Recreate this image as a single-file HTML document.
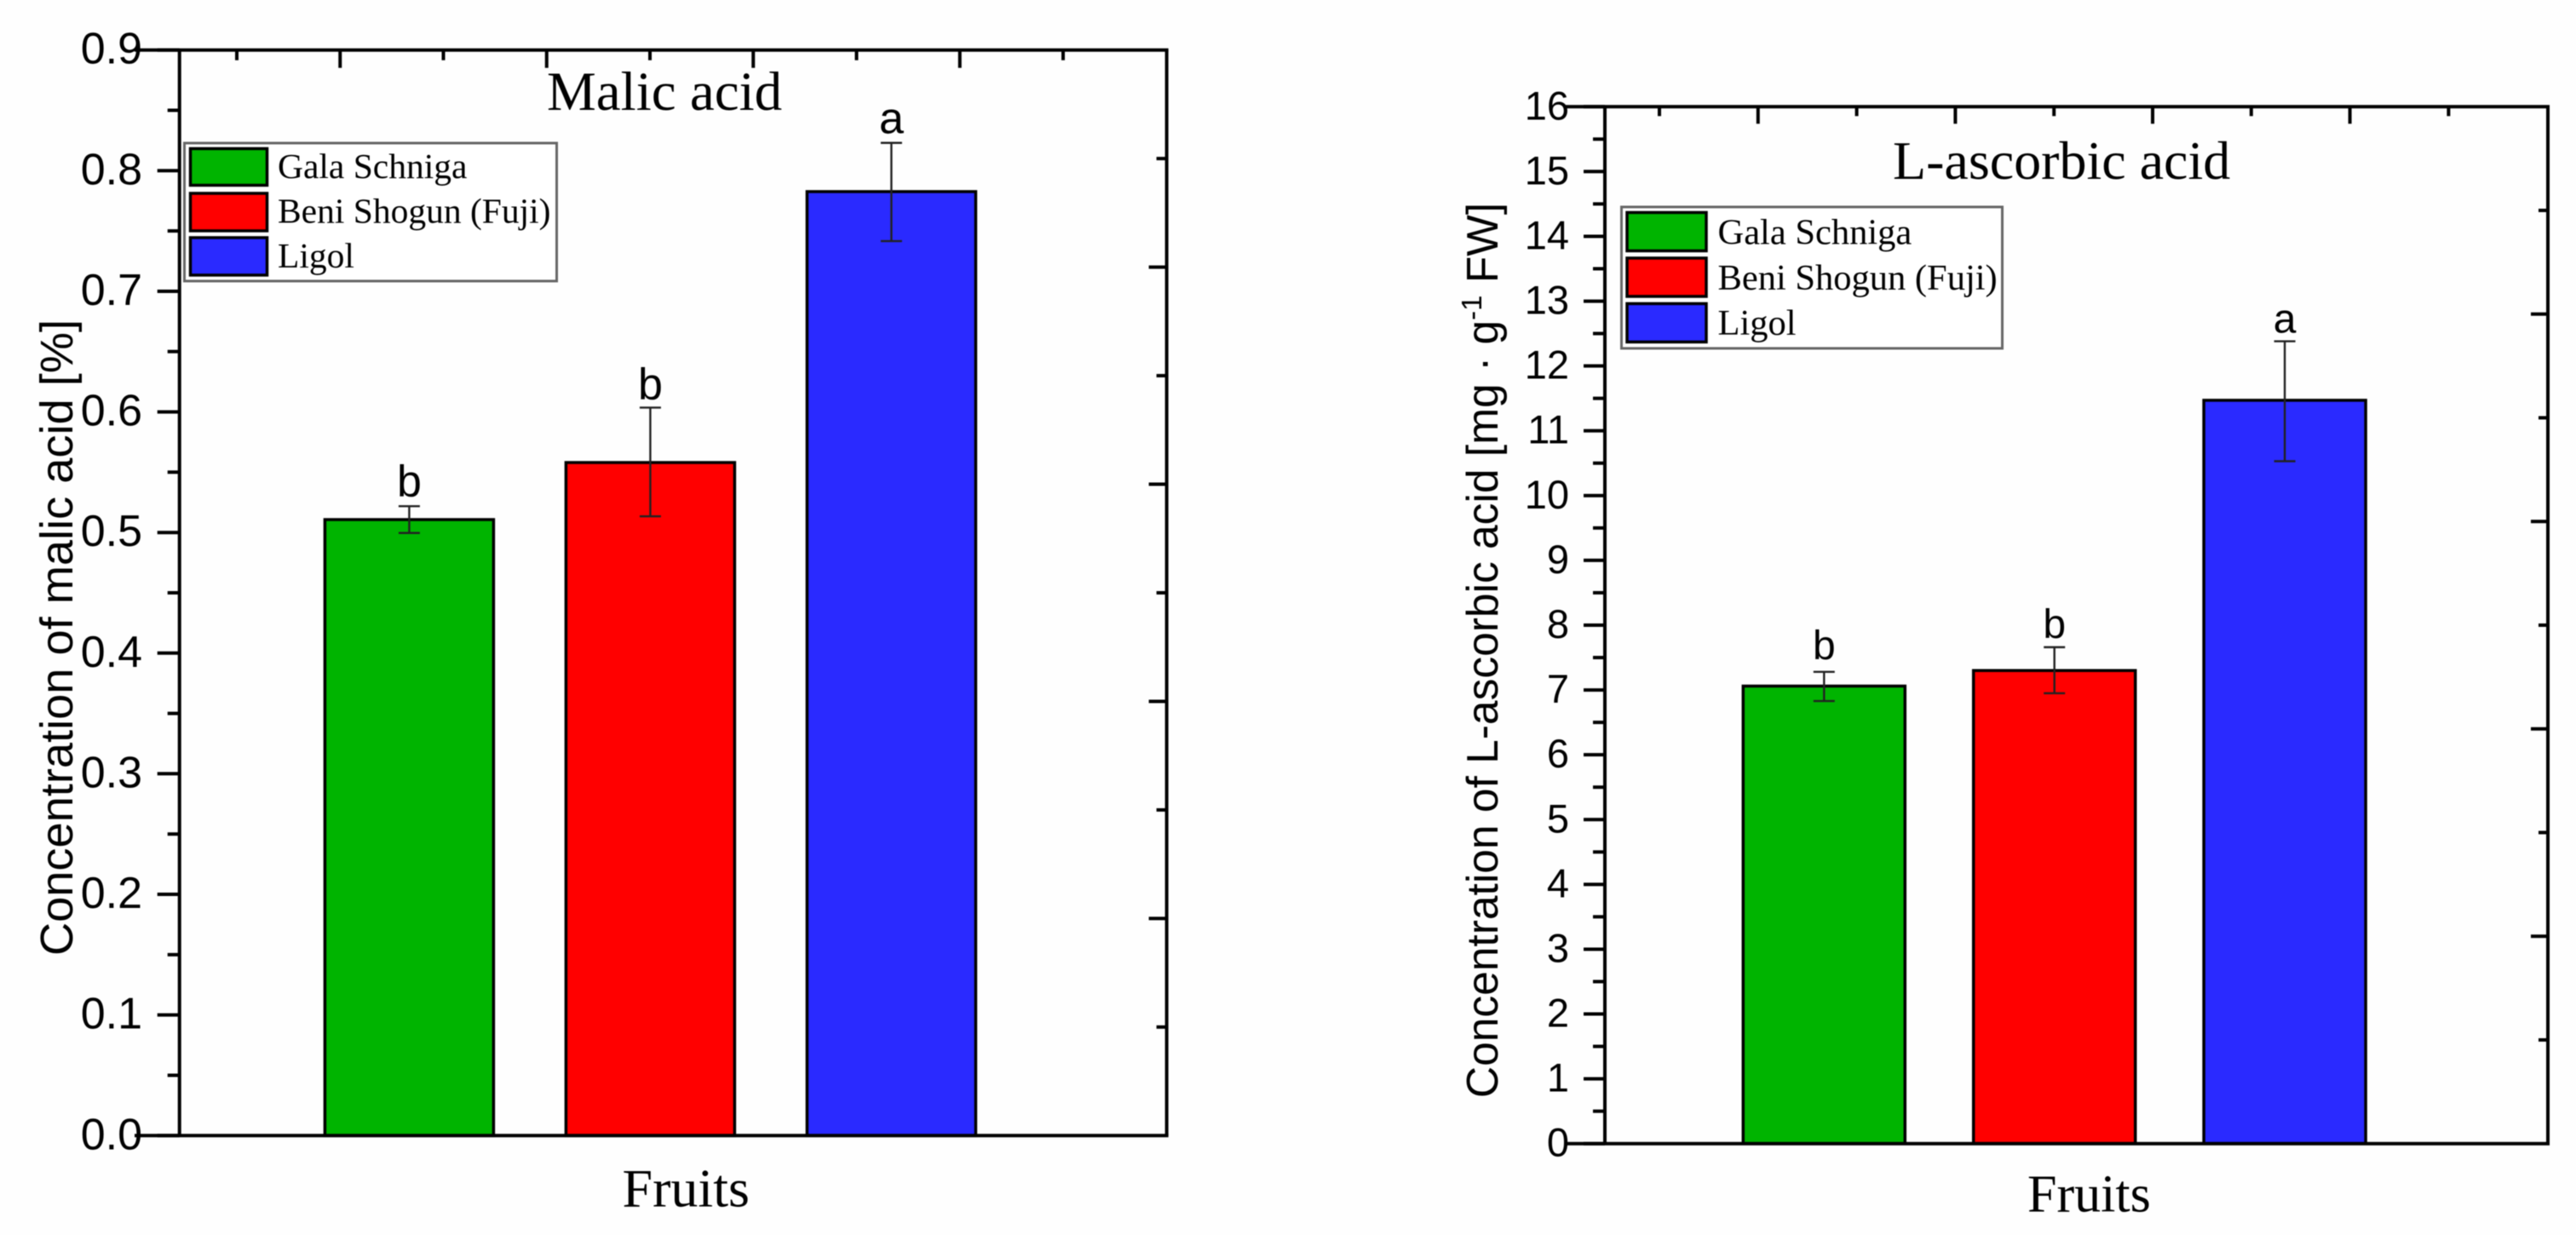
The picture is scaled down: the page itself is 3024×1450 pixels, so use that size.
<!DOCTYPE html>
<html lang="en">
<head>
<meta charset="utf-8">
<title>Malic acid and L-ascorbic acid concentration</title>
<style>
html,body{margin:0;padding:0;background:#fefefe;width:3024px;height:1450px;overflow:hidden}
svg{display:block;filter:blur(.6px)}
.serif{font-family:"Liberation Serif",serif;fill:#000}
.sans{font-family:"Liberation Sans",sans-serif;fill:#000}
</style>
</head>
<body>
<svg id="figure" xmlns="http://www.w3.org/2000/svg" width="3024" height="1450" viewBox="0 0 3024 1450">
  <rect x="0" y="0" width="3024" height="1450" fill="#fefefe"/>

  <g id="malic-chart"></g>
  <g id="ascorbic-chart"></g>

  <!-- Malic acid static text and legend -->
  <text class="serif" x="642" y="129" font-size="65">Malic acid</text>
  <text class="serif" x="730.5" y="1416.5" font-size="64">Fruits</text>
  <text class="sans" font-size="54.2" text-anchor="middle" transform="translate(85 748.5) rotate(-90)">Concentration of malic acid [%]</text>
  <g>
    <rect x="216.5" y="168" width="437" height="162" fill="#fff" stroke="#666" stroke-width="3"/>
    <rect x="223.5" y="174.5" width="90" height="43" fill="#00b400" stroke="#000" stroke-width="3.5"/>
    <rect x="223.5" y="227" width="90" height="44" fill="#ff0000" stroke="#000" stroke-width="3.5"/>
    <rect x="223.5" y="279" width="90" height="44" fill="#2a2aff" stroke="#000" stroke-width="3.5"/>
    <text class="serif" x="326" y="209" font-size="41.5">Gala Schniga</text>
    <text class="serif" x="326" y="261.5" font-size="41.5">Beni Shogun (Fuji)</text>
    <text class="serif" x="326" y="314" font-size="41.5">Ligol</text>
  </g>

  <!-- L-ascorbic acid static text and legend -->
  <text class="serif" x="2222" y="210" font-size="64">L-ascorbic acid</text>
  <text class="serif" x="2380" y="1422.5" font-size="62">Fruits</text>
  <text class="sans" font-size="51.5" text-anchor="middle" transform="translate(1758 763.5) rotate(-90)">Concentration of L-ascorbic acid [mg · g<tspan font-size="33" dy="-19">-1</tspan><tspan dy="19"> FW]</tspan></text>
  <g>
    <rect x="1903.5" y="243" width="447" height="166" fill="#fff" stroke="#666" stroke-width="3"/>
    <rect x="1910" y="249.5" width="93" height="45" fill="#00b400" stroke="#000" stroke-width="3.5"/>
    <rect x="1910" y="303" width="93" height="45" fill="#ff0000" stroke="#000" stroke-width="3.5"/>
    <rect x="1910" y="356.5" width="93" height="45" fill="#2a2aff" stroke="#000" stroke-width="3.5"/>
    <text class="serif" x="2016.5" y="286.5" font-size="42.5">Gala Schniga</text>
    <text class="serif" x="2016.5" y="340" font-size="42.5">Beni Shogun (Fuji)</text>
    <text class="serif" x="2016.5" y="393" font-size="42.5">Ligol</text>
  </g>
</svg>

<script>
const cultivars = ['gala-schniga', 'beni-shogun-fuji', 'ligol'];
const barColors = ['#00b400', '#ff0000', '#2a2aff'];

const malicValues = [0.5107, 0.558, 0.7826];
const malicUpper = [0.5218, 0.6035, 0.823];
const malicLower = [0.4996, 0.5134, 0.7416];
const malicLetters = ['b', 'b', 'a'];
const malicTickLabels = ['0.0', '0.1', '0.2', '0.3', '0.4', '0.5', '0.6', '0.7', '0.8', '0.9'];

const ascorbicValues = [7.06, 7.3, 11.47];
const ascorbicUpper = [7.28, 7.66, 12.38];
const ascorbicLower = [6.83, 6.95, 10.53];
const ascorbicLetters = ['b', 'b', 'a'];
const ascorbicTickLabels = ['0', '1', '2', '3', '4', '5', '6', '7', '8', '9', '10', '11', '12', '13', '14', '15', '16'];

const SVG_NS = 'http://www.w3.org/2000/svg';

function shape(parent, tag, props) {
  const el = document.createElementNS(SVG_NS, tag);
  for (const key in props) el.setAttribute(key, props[key]);
  parent.appendChild(el);
  return el;
}

function drawChart(root, prefix, frame, values, upper, lower, letters, tickLabels) {
  const yMin = parseFloat(tickLabels[0]);
  const yMax = parseFloat(tickLabels[tickLabels.length - 1]);
  const yScale = v => frame.bottom - (v - yMin) / (yMax - yMin) * (frame.bottom - frame.top);
  const xScale = i => frame.firstCenter + i * frame.centerStep;

  // bars
  values.forEach((v, i) => {
    const bar = shape(root, 'rect', {
      x: xScale(i) - frame.barWidth / 2,
      y: yScale(v),
      width: frame.barWidth,
      height: yScale(yMin) - yScale(v),
      fill: barColors[i],
      stroke: '#000',
      'stroke-width': 3.5
    });
    
    
  });

  // error bars and significance letters
  values.forEach((v, i) => {
    const cx = xScale(i);
    const group = shape(root, 'g', { stroke: '#222', 'stroke-width': 2.4 });
    
    
    shape(group, 'line', { x1: cx, x2: cx, y1: yScale(upper[i]), y2: yScale(lower[i]) });
    shape(group, 'line', { x1: cx - 12.5, x2: cx + 12.5, y1: yScale(upper[i]), y2: yScale(upper[i]) });
    shape(group, 'line', { x1: cx - 12.5, x2: cx + 12.5, y1: yScale(lower[i]), y2: yScale(lower[i]) });

    const letter = shape(root, 'text', {
      x: cx,
      y: yScale(upper[i]) - frame.letterGaps[i],
      'text-anchor': 'middle',
      'font-size': frame.letterSize,
      class: 'sans'
    });
    letter.textContent = letters[i];
    
    
  });

  // frame
  const axes = shape(root, 'g', { stroke: '#000', 'stroke-width': 4, fill: 'none' });
  
  
  shape(axes, 'line', { x1: frame.lineStart, x2: frame.right + 2, y1: frame.top, y2: frame.top });
  shape(axes, 'line', { x1: frame.lineStart, x2: frame.right + 2, y1: frame.bottom, y2: frame.bottom });
  shape(axes, 'line', { x1: frame.left, x2: frame.left, y1: frame.top, y2: frame.bottom });
  shape(axes, 'line', { x1: frame.right, x2: frame.right, y1: frame.top, y2: frame.bottom });

  // left axis ticks and labels
  tickLabels.forEach((label, i) => {
    const value = parseFloat(label);
    shape(axes, 'line', { x1: frame.left - frame.leftMajor, x2: frame.left, y1: yScale(value), y2: yScale(value) });
    if (i < tickLabels.length - 1) {
      const mid = (value + parseFloat(tickLabels[i + 1])) / 2;
      shape(axes, 'line', { x1: frame.left - frame.leftMinor, x2: frame.left, y1: yScale(mid), y2: yScale(mid) });
    }
    const text = shape(root, 'text', {
      x: frame.labelRight,
      y: yScale(value) + frame.labelDrop,
      'text-anchor': 'end',
      'font-size': frame.labelSize,
      class: 'sans'
    });
    text.textContent = label;
    
    
  });

  // top axis ticks
  for (let i = 0; i < frame.topTickCount; i++) {
    const x = frame.topFirst + i * frame.topStep;
    const len = i % 2 === 0 ? frame.topMinor : frame.topMajor;
    shape(axes, 'line', { x1: x, x2: x, y1: frame.top, y2: frame.top + len });
  }

  // right axis ticks
  for (let i = 1; i < frame.rightDivisions; i++) {
    const y = frame.top + i * (frame.bottom - frame.top) / frame.rightDivisions;
    const len = i % 2 === 0 ? frame.rightMajor : frame.rightMinor;
    shape(axes, 'line', { x1: frame.right - len, x2: frame.right, y1: y, y2: y });
  }
}

drawChart(document.getElementById('malic-chart'), 'malic', {
  left: 210.7, right: 1369.6, top: 58.7, bottom: 1333.3, lineStart: 158,
  firstCenter: 480.4, centerStep: 283, barWidth: 198,
  leftMajor: 26, leftMinor: 14, labelRight: 167, labelDrop: 16, labelSize: 52,
  topFirst: 278, topStep: 121.25, topTickCount: 9, topMajor: 21, topMinor: 12,
  rightDivisions: 10, rightMajor: 21, rightMinor: 12,
  letterGaps: [12, 10, 11], letterSize: 52
}, malicValues, malicUpper, malicLower, malicLetters, malicTickLabels);

drawChart(document.getElementById('ascorbic-chart'), 'ascorbic', {
  left: 1884, right: 2991, top: 125.3, bottom: 1342.7, lineStart: 1838,
  firstCenter: 2141.3, centerStep: 270.4, barWidth: 190,
  leftMajor: 25, leftMinor: 14, labelRight: 1842, labelDrop: 15, labelSize: 47,
  topFirst: 1948, topStep: 115.8, topTickCount: 9, topMajor: 20, topMinor: 11,
  rightDivisions: 10, rightMajor: 20, rightMinor: 11,
  letterGaps: [15, 11, 10], letterSize: 48
}, ascorbicValues, ascorbicUpper, ascorbicLower, ascorbicLetters, ascorbicTickLabels);
</script>
</body>
</html>
